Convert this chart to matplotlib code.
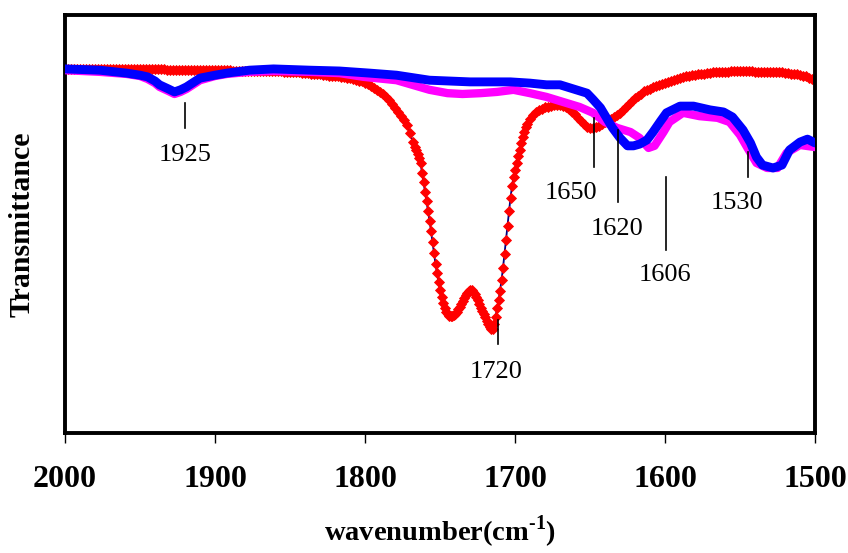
import matplotlib
matplotlib.use("Agg")
import matplotlib.pyplot as plt

plt.rcParams["font.family"] = ["Liberation Serif", "DejaVu Serif"]
plt.rcParams["mathtext.fontset"] = "custom"
plt.rcParams["mathtext.rm"] = "Liberation Serif"
plt.rcParams["mathtext.bf"] = "Liberation Serif:bold"

# ---- spectra: (wavenumber cm-1, transmittance a.u.) ----
red_spectrum = [
    (2000, 87.2), (1998, 87.2), (1996, 87.2), (1994, 87.2), (1992, 87.2), (1990, 87.2),
    (1988, 87.2), (1986, 87.2), (1984, 87.2), (1982, 87.2), (1980, 87.1), (1978, 87.1),
    (1976, 87.1), (1974, 87.1), (1972, 87.1), (1970, 87.1), (1968, 87.1), (1966, 87.1),
    (1964, 87.1), (1962, 87.1), (1960, 87.1), (1958, 87.1), (1956, 87.0), (1954, 87.0),
    (1952, 87.0), (1950, 87.0), (1948, 87.0), (1946, 87.0), (1944, 87.0), (1942, 87.0),
    (1940, 87.0), (1938, 87.0), (1936, 87.0), (1934, 87.0), (1932, 86.9), (1930, 86.9),
    (1928, 86.9), (1926, 86.9), (1924, 86.9), (1922, 86.9), (1920, 86.9), (1918, 86.9),
    (1916, 86.9), (1914, 86.9), (1912, 86.9), (1910, 86.9), (1908, 86.8), (1906, 86.8),
    (1904, 86.8), (1902, 86.8), (1900, 86.8), (1898, 86.8), (1896, 86.8), (1894, 86.8),
    (1892, 86.8), (1890, 86.8), (1888, 86.7), (1886, 86.7), (1884, 86.7), (1882, 86.7),
    (1880, 86.7), (1878, 86.7), (1876, 86.7), (1874, 86.7), (1872, 86.6), (1870, 86.6),
    (1868, 86.6), (1866, 86.6), (1864, 86.6), (1862, 86.6), (1860, 86.5), (1858, 86.5),
    (1856, 86.5), (1854, 86.4), (1852, 86.4), (1850, 86.3), (1848, 86.3), (1846, 86.3),
    (1844, 86.3), (1842, 86.2), (1840, 86.2), (1838, 86.1), (1836, 86.0), (1834, 85.9),
    (1832, 85.9), (1830, 85.8), (1828, 85.7), (1826, 85.6), (1824, 85.5), (1822, 85.4),
    (1820, 85.4), (1818, 85.3), (1816, 85.2), (1814, 85.1), (1812, 85.0), (1810, 84.9),
    (1808, 84.7), (1806, 84.5), (1804, 84.3), (1802, 84.1), (1800, 83.8), (1798, 83.4),
    (1796, 83.0), (1794, 82.6), (1792, 82.1), (1790, 81.6), (1788, 81.0), (1786, 80.4),
    (1784, 79.6), (1782, 78.7), (1780, 77.8), (1778, 76.8), (1776, 75.9), (1774, 74.8),
    (1772, 73.7), (1770, 71.8), (1768, 69.6), (1767, 68.5), (1766, 67.6), (1765, 66.7),
    (1764, 65.8), (1763, 64.6), (1762, 62.3), (1761, 60.0), (1760, 57.6), (1759, 55.4),
    (1758, 53.2), (1757, 50.8), (1756, 48.3), (1755, 45.6), (1754, 43.0), (1753, 40.4),
    (1752, 38.2), (1751, 36.2), (1750, 34.3), (1749, 32.5), (1748, 31.0), (1747, 29.8),
    (1746, 28.9), (1745, 28.4), (1744, 28.1), (1743, 28.0), (1742, 28.0), (1741, 28.2),
    (1740, 28.5), (1739, 29.0), (1738, 29.6), (1737, 30.2), (1736, 30.9), (1735, 31.6),
    (1734, 32.3), (1733, 33.0), (1732, 33.6), (1731, 34.0), (1730, 34.2), (1729, 34.1),
    (1728, 33.8), (1727, 33.3), (1726, 32.6), (1725, 31.7), (1724, 30.8), (1723, 30.0),
    (1722, 29.2), (1721, 28.5), (1720, 27.7), (1719, 26.9), (1718, 26.1), (1717, 25.3),
    (1716, 24.9), (1715, 25.0), (1714, 26.0), (1713, 27.8), (1712, 29.8), (1711, 31.8),
    (1710, 34.0), (1709, 36.5), (1708, 39.5), (1707, 42.8), (1706, 46.2), (1705, 49.6),
    (1704, 53.0), (1703, 56.3), (1702, 59.0), (1701, 61.2), (1700, 63.0), (1699, 64.6),
    (1698, 66.2), (1697, 67.8), (1696, 69.3), (1695, 70.7), (1694, 72.0), (1693, 73.1),
    (1692, 74.0), (1690, 75.2), (1688, 76.1), (1686, 76.7), (1684, 77.2), (1682, 77.6),
    (1680, 77.9), (1678, 78.1), (1676, 78.3), (1674, 78.4), (1672, 78.5), (1670, 78.4),
    (1668, 78.2), (1666, 77.9), (1664, 77.5), (1662, 76.9), (1660, 76.2), (1658, 75.3),
    (1656, 74.6), (1654, 73.9), (1652, 73.3), (1650, 73.0), (1648, 72.9), (1646, 73.1),
    (1644, 73.5), (1642, 73.9), (1640, 74.4), (1638, 74.7), (1636, 75.1), (1634, 75.5),
    (1632, 76.0), (1630, 76.6), (1628, 77.3), (1626, 78.0), (1624, 78.8), (1622, 79.5),
    (1620, 80.1), (1618, 80.7), (1616, 81.2), (1614, 81.7), (1612, 82.1), (1610, 82.4),
    (1608, 82.7), (1606, 83.0), (1604, 83.3), (1602, 83.6), (1600, 83.8), (1598, 84.0),
    (1596, 84.3), (1594, 84.5), (1592, 84.8), (1590, 85.0), (1588, 85.2), (1586, 85.4),
    (1584, 85.5), (1582, 85.6), (1580, 85.7), (1578, 85.8), (1576, 85.9), (1574, 86.0),
    (1572, 86.1), (1570, 86.2), (1568, 86.3), (1566, 86.3), (1564, 86.4), (1562, 86.4),
    (1560, 86.4), (1558, 86.4), (1556, 86.5), (1554, 86.5), (1552, 86.5), (1550, 86.5),
    (1548, 86.5), (1546, 86.5), (1544, 86.5), (1542, 86.5), (1540, 86.4), (1538, 86.4),
    (1536, 86.4), (1534, 86.4), (1532, 86.4), (1530, 86.4), (1528, 86.3), (1526, 86.3),
    (1524, 86.3), (1522, 86.3), (1520, 86.2), (1518, 86.1), (1516, 86.0), (1514, 86.0),
    (1512, 85.9), (1510, 85.7), (1508, 85.5), (1506, 85.3), (1504, 85.0), (1502, 84.7),
    (1500, 84.4),
]

magenta_spectrum = [
    (2000, 86.8), (1977, 86.4), (1959, 85.9), (1950, 85.4), (1945, 84.7), (1940, 83.7),
    (1937, 82.8), (1931, 81.8), (1927, 81.1), (1923, 81.6), (1919, 82.3), (1910, 84.4),
    (1900, 85.4), (1892, 85.9), (1877, 86.4), (1861, 86.6), (1837, 86.4), (1817, 86.1),
    (1801, 85.2), (1779, 84.4), (1757, 82.1), (1745, 81.3), (1735, 81.1), (1723, 81.3),
    (1712, 81.6), (1701, 82.1), (1690, 81.3), (1679, 80.4), (1668, 79.2), (1657, 78.0),
    (1648, 76.6), (1640, 74.4), (1632, 73.0), (1623, 72.0), (1617, 70.6), (1611, 68.2),
    (1607, 68.7), (1601, 72.0), (1597, 74.4), (1588, 76.6), (1577, 75.8), (1565, 75.4),
    (1557, 74.4), (1550, 71.3), (1545, 68.2), (1539, 64.6), (1532, 63.4), (1525, 63.4),
    (1519, 67.0), (1510, 68.9), (1500, 68.4),
]

blue_spectrum = [
    (2000, 87.1), (1977, 86.8), (1959, 86.1), (1950, 85.6), (1945, 85.2), (1940, 84.2),
    (1937, 83.3), (1931, 82.3), (1927, 81.6), (1923, 82.1), (1919, 82.8), (1910, 84.9),
    (1900, 85.6), (1892, 86.1), (1877, 86.8), (1861, 87.1), (1837, 86.8), (1817, 86.6),
    (1797, 86.1), (1779, 85.6), (1757, 84.4), (1730, 84.0), (1703, 84.0), (1690, 83.7),
    (1679, 83.3), (1670, 83.3), (1661, 82.3), (1652, 81.3), (1648, 79.8), (1643, 77.8),
    (1639, 75.4), (1635, 73.0), (1630, 70.6), (1625, 68.7), (1621, 68.7), (1617, 69.1),
    (1612, 70.1), (1608, 72.0), (1603, 74.6), (1599, 76.6), (1590, 78.2), (1581, 78.2),
    (1570, 77.3), (1561, 76.8), (1555, 75.6), (1548, 72.5), (1543, 69.4), (1539, 66.0),
    (1535, 64.1), (1528, 63.4), (1522, 64.1), (1517, 67.7), (1510, 69.6), (1505, 70.3),
    (1500, 69.4),
]

# ---- band assignments ----
band_labels = ["1925", "1720", "1650", "1620", "1606", "1530"]
band_marker_x = [1920, 1711.3, 1647.3, 1631.3, 1599.3, 1544.7]
band_marker_y = [(78.9, 73.0), (27.0, 21.3), (75.4, 63.6), (72.5, 55.3), (61.2, 43.8), (67.2, 61.2)]
band_text_xy = [(1920, 66.5), (1712.5, 14.6), (1662.5, 57.3), (1632, 48.9), (1600, 37.9), (1552, 55.0)]

x_ticks = [2000, 1900, 1800, 1700, 1600, 1500]

fig = plt.figure(figsize=(8.48, 5.53), dpi=100)
ax = fig.add_axes([65 / 848, 1 - 433 / 553, 750 / 848, 418 / 553])

rw, rt = zip(*red_spectrum)
mw, mt = zip(*magenta_spectrum)
bw, bt = zip(*blue_spectrum)

ax.plot(rw, rt, color="#000080", lw=1.3, marker="D", ms=4.6,
        mfc="#ff0000", mec="#ff0000", mew=0.6, zorder=2)
ax.plot(mw, mt, color="#ff00ff", lw=6.0, solid_joinstyle="round",
        solid_capstyle="round", zorder=3)
ax.plot(bw, bt, color="#0000ff", lw=6.4, solid_joinstyle="round",
        solid_capstyle="round", zorder=4)

for lab, x, (y0, y1), (tx, ty) in zip(band_labels, band_marker_x, band_marker_y, band_text_xy):
    ax.plot([x, x], [y0, y1], color="black", lw=1.2, zorder=6)
    ax.text(tx, ty, lab, ha="center", va="center", fontsize=19, zorder=6)

ax.set_xlim(2000, 1500)
ax.set_ylim(0, 100)
ax.set_xticks(x_ticks)
ax.set_xticklabels([str(t) for t in x_ticks], fontsize=23, fontweight="bold")
ax.set_yticks([])
ax.tick_params(axis="x", direction="out", length=7, width=1, pad=16)

for sp in ax.spines.values():
    sp.set_linewidth(2.8)

ax.set_xlabel("wavenumber(cm$^{\\mathbf{\u2010 1}}$)", fontsize=20.5, fontweight="bold", labelpad=14)
ax.set_ylabel("Transmittance", fontsize=21.5, fontweight="bold", labelpad=21)

fig.savefig("out.png", dpi=100)
